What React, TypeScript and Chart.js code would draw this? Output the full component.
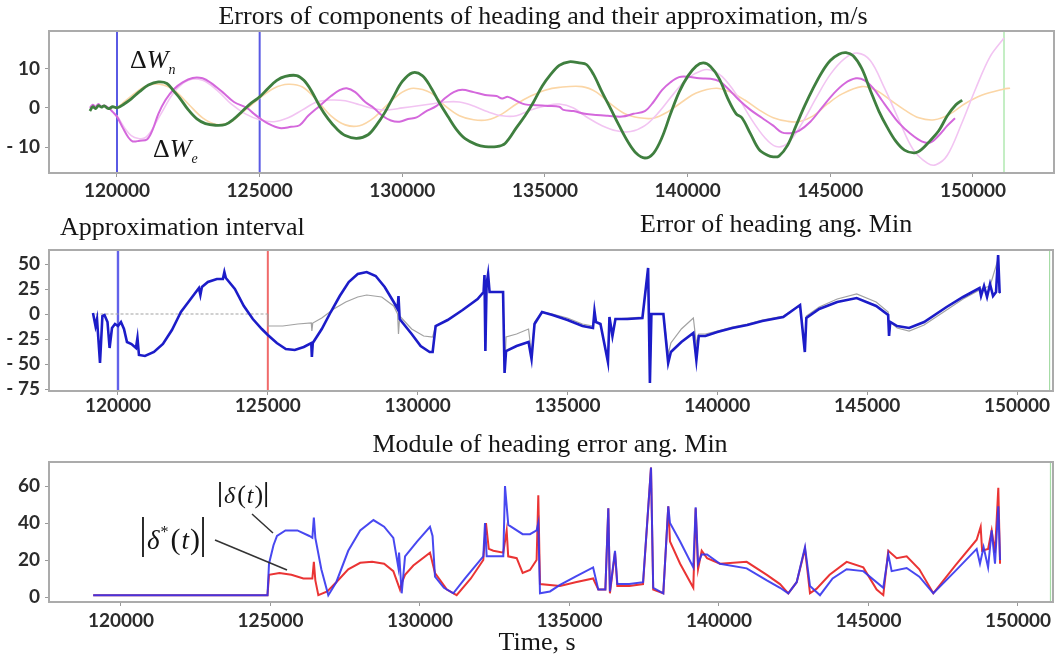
import React, { useEffect, useRef } from 'react';
import { Chart, registerables } from 'chart.js';
Chart.register(...registerables);

// ---------------- Data (time s, value) ----------------
const xTicks = [120000, 125000, 130000, 135000, 140000, 145000, 150000];
const topYTicks = [-10, 0, 10];
const midYTicks = [-75, -50, -25, 0, 25, 50];
const botYTicks = [0, 20, 40, 60];

const approxStart = 120000;
const approxEnd = 125000;
const forecastEnd = 151087;

// Panel 1: ΔWn (green)
const deltaWn: [number, number][] = [
  [119050,-0.8],[119150,0.3],[119250,-0.2],[119350,0.6],[119450,0.2],[119550,0.5],[119700,-0.2],[119850,0.3],
  [120000,0.0],[120250,1.0],[120500,2.3],[120800,4.2],[121100,5.8],[121450,6.6],[121750,6.2],[122000,4.2],
  [122200,2.5],[122500,-0.5],[122800,-2.8],[123100,-4.0],[123450,-4.4],[123800,-4.2],[124100,-2.8],[124400,-0.8],
  [124700,1.2],[125000,2.8],[125300,5.0],[125600,7.0],[125900,8.0],[126300,8.2],[126550,7.0],[126800,4.5],
  [127100,0.5],[127400,-2.8],[127700,-5.3],[128000,-7.0],[128400,-7.7],[128800,-6.8],[129100,-4.3],[129400,-1.0],
  [129700,3.0],[130000,6.7],[130350,8.9],[130700,8.2],[131000,5.2],[131300,1.3],[131600,-2.2],[131900,-5.5],
  [132200,-7.8],[132600,-9.3],[132900,-9.8],[133300,-9.8],[133600,-9.0],[134000,-5.0],[134300,-2.0],[134600,1.5],
  [134900,5.5],[135200,8.5],[135500,10.8],[135850,11.7],[136200,11.4],[136450,11.0],[136700,8.5],[137000,4.0],
  [137300,-0.2],[137600,-4.5],[137900,-8.5],[138200,-11.5],[138500,-12.7],[138800,-11.5],[139100,-7.5],[139400,-1.5],
  [139700,4.0],[140000,8.0],[140300,10.6],[140550,11.4],[140800,10.5],[141100,7.5],[141400,2.5],[141700,-1.5],
  [141900,-2.5],[142200,-6.5],[142500,-10.5],[142800,-12.0],[143000,-12.4],[143200,-12.2],[143500,-9.5],[143800,-4.5],
  [144100,0.5],[144400,5.0],[144700,9.0],[145000,12.0],[145300,13.6],[145550,14.0],[145800,13.2],[146100,10.0],
  [146400,4.5],[146700,-0.8],[147000,-5.0],[147300,-8.5],[147600,-10.7],[147950,-11.4],[148200,-10.5],[148500,-8.3],
  [148800,-5.8],[149100,-2.0],[149400,0.8],[149620,2.0]
];

// Panel 1: ΔWe (magenta)
const deltaWe: [number, number][] = [
  [119050,0.0],[119150,0.8],[119250,0.3],[119350,1.0],[119450,0.3],[119550,0.6],[119700,0.0],[119850,-1.0],
  [120000,-2.2],[120200,-5.0],[120400,-7.5],[120550,-8.5],[120800,-8.3],[121050,-8.0],[121250,-5.5],[121450,-1.5],
  [121700,2.0],[122000,4.8],[122300,6.5],[122650,7.6],[123000,7.5],[123300,6.3],[123700,4.0],[124100,1.5],
  [124550,0.0],[124800,-1.5],[125000,-2.6],[125300,-4.0],[125700,-5.1],[126100,-4.8],[126400,-4.4],[126700,-2.0],
  [127100,0.5],[127500,3.0],[127800,4.5],[128050,5.0],[128350,4.0],[128700,1.5],[129000,0.0],[129300,-2.0],
  [129600,-3.2],[129900,-3.5],[130200,-2.8],[130500,-2.4],[130800,-1.0],[131200,0.5],[131500,2.5],[131800,4.0],
  [132100,4.6],[132500,4.0],[132900,3.3],[133300,3.0],[133500,2.4],[133700,2.8],[134000,1.8],[134300,0.9],
  [134700,0.7],[135100,0.5],[135500,0.3],[135650,-0.5],[136000,-0.8],[136400,-1.5],[136800,-1.8],[137200,-2.0],
  [137700,-2.2],[138100,-1.5],[138500,-0.8],[138800,1.5],[139100,4.5],[139400,6.5],[139700,7.8],[140000,7.9],
  [140400,7.5],[140800,7.4],[141100,6.8],[141400,5.0],[141800,2.0],[142200,-0.5],[142600,-2.5],[143000,-4.5],
  [143300,-6.2],[143600,-6.4],[143900,-5.8],[144300,-3.5],[144700,0.0],[145100,3.5],[145500,6.2],[145900,7.5],
  [146200,7.0],[146500,5.0],[146800,2.0],[147100,-1.0],[147400,-3.8],[147800,-6.5],[148200,-8.5],[148500,-8.8],
  [148800,-7.0],[149100,-4.5],[149370,-2.6]
];

// Panel 1: approximation of ΔWn (light orange)
const approxWn: [number, number][] = [
  [120000,0.0],[120500,3.0],[121000,5.5],[121500,6.0],[122000,4.5],[122500,1.0],[123000,-2.5],[123500,-4.2],
  [124000,-3.5],[124500,-0.5],[125000,2.5],[125500,5.0],[126000,6.0],[126500,5.3],[127000,2.0],[127500,-2.0],
  [128000,-4.3],[128500,-4.5],[129000,-2.5],[129500,1.0],[130000,4.0],[130400,5.0],[131000,3.8],[131500,0.5],
  [132000,-2.0],[132500,-3.0],[133000,-3.0],[133500,-1.5],[134000,1.0],[134500,3.0],[135000,4.5],[135500,5.2],
  [136300,5.4],[136800,4.0],[137300,1.0],[137800,-1.5],[138300,-2.5],[138800,-2.6],[139300,-1.0],[139800,1.5],
  [140300,3.8],[141000,5.0],[141500,4.0],[142000,2.0],[142500,-0.5],[143000,-2.5],[143500,-3.4],[143900,-3.5],
  [144400,-2.0],[144900,1.0],[145400,3.5],[146100,5.4],[146600,4.5],[147100,2.0],[147600,-0.5],[148100,-2.5],
  [148650,-3.0],[149200,-1.5],[149700,1.0],[150300,3.2],[151087,4.8],[151300,5.0]
];

// Panel 1: approximation of ΔWe (light pink)
const approxWe: [number, number][] = [
  [120000,-2.0],[120500,-7.0],[121000,-7.5],[121500,-2.0],[122000,4.0],[122500,7.0],[123000,7.0],[123500,4.5],
  [124000,1.0],[124500,-1.5],[125000,-3.0],[125500,-3.5],[126000,-2.5],[126500,-0.5],[127000,1.5],[127500,2.0],
  [128000,1.8],[128500,0.8],[129000,-0.2],[129500,-0.5],[130000,0.0],[130500,0.5],[131000,1.0],[131500,1.5],
  [132000,1.5],[132500,0.5],[133000,-1.0],[133500,-2.0],[134000,-2.0],[134500,-0.5],[135000,0.5],[135500,1.0],
  [136000,0.0],[136500,-2.5],[137000,-4.5],[137500,-5.8],[138000,-6.0],[138500,-4.5],[139000,-1.0],[139500,3.5],
  [140000,7.5],[140500,9.5],[140800,9.6],[141200,8.0],[141700,3.5],[142200,-2.5],[142700,-7.5],[143100,-9.8],
  [143500,-9.0],[144000,-4.0],[144500,2.5],[145000,8.5],[145500,12.5],[145950,13.9],[146400,12.0],[146900,5.0],
  [147400,-3.0],[147900,-10.5],[148400,-14.0],[148700,-14.4],[149100,-12.0],[149600,-4.0],[150100,5.0],[150600,13.0],
  [151087,17.7]
];

// Panel 2: heading error (blue) and its approximation (gray)
const headingError: [number, number][] = [
  [119166,1],[119250,-12],[119300,-5],[119400,-49],[119480,-2],[119550,-1],[119650,-8],[119720,-34],[119800,-14],
  [119900,-10],[120000,-12],[120100,-8],[120200,-15],[120300,-28],[120450,-30],[120600,-34],[120650,-24],[120700,-41],
  [120900,-42],[121200,-38],[121500,-30],[121800,-16],[122000,-4],[122100,2],[122400,14],[122700,26],[122750,19],
  [122800,27],[123000,32],[123300,35],[123500,35],[123550,42],[123600,36],[123900,25],[124200,8],[124500,-5],
  [124800,-15],[125000,-21],[125300,-29],[125600,-35],[125900,-36],[126200,-33],[126450,-29],[126470,-43],[126500,-29],
  [126800,-15],[127100,2],[127400,18],[127700,32],[128000,40],[128300,42],[128600,38],[128900,27],[129200,12],
  [129330,5],[129360,18],[129400,-5],[129800,-20],[130100,-32],[130400,-38],[130500,-38],[130600,-12],[131000,-6],
  [131500,4],[132000,15],[132200,22],[132230,39],[132260,-37],[132300,30],[132350,40],[132400,22],[132700,22],
  [132850,22],[132900,-59],[132950,-37],[133300,-32],[133700,-28],[133800,-45],[133900,-10],[134150,2],[134500,-1],
  [135000,-6],[135500,-12],[135850,-14],[135900,3],[135950,-8],[136100,-10],[136350,-48],[136400,-3],[136500,-22],
  [136600,-5],[137000,-5],[137500,-4],[137690,46],[137750,-69],[137800,0],[138200,0],[138360,-49],[138450,-38],
  [138800,-28],[139200,-19],[139300,-46],[139380,-22],[139600,-22],[140000,-18],[140500,-14],[141000,-11],[141500,-7],
  [142200,-3],[142760,9],[142920,-38],[142970,-4],[143400,5],[144000,12],[144650,16],[145300,8],[145700,-1],
  [145730,-22],[145770,-8],[146000,-12],[146400,-14],[146900,-8],[147650,7],[148200,17],[148750,26],[148800,18],
  [148900,28],[149000,17],[149100,30],[149200,18],[149300,22],[149370,59],[149420,21]
];

const headingApprox: [number, number][] = [
  [119250,0],[125000,0],[125010,-12],[125500,-12],[126000,-10],[126450,-9],[126470,-17],[126500,-9],[126800,-4],
  [127200,5],[127600,12],[128000,17],[128300,19],[128800,17],[129200,8],[129330,0],[129360,-20],[129400,-2],
  [129800,-15],[130200,-22],[130500,-23],[130600,-12],[131000,-6],[131500,4],[132000,15],[132200,22],[132230,39],
  [132260,-37],[132300,30],[132350,40],[132400,22],[132850,22],[132900,-59],[132950,-23],[133300,-20],[133700,-15],
  [133800,-40],[133900,-8],[134150,2],[134500,0],[135000,-4],[135500,-10],[135850,-12],[135900,3],[135950,-8],
  [136100,-10],[136350,-48],[136400,-3],[136500,-22],[136600,-5],[137000,-4],[137500,-3],[137690,46],[137750,-69],
  [137800,0],[138200,0],[138360,-40],[138450,-29],[138800,-15],[139200,-4],[139300,-30],[139380,-20],[139600,-20],
  [140000,-17],[140500,-13],[141000,-10],[141500,-6],[142200,-2],[142760,9],[142920,-38],[142970,-2],[143400,7],
  [144000,15],[144650,20],[145300,12],[145700,2],[145730,-22],[145770,-8],[146000,-14],[146400,-17],[146900,-11],
  [147650,4],[148200,15],[148750,24],[148900,26],[149100,28],[149370,55],[149420,20]
];

// Panel 3: |δ(t)| (blue) and |δ*(t)| (red)
const moduleError: [number, number][] = [
  [119070,1],[124900,1],[124950,18],[125100,28],[125217,33],[125500,36],[125900,36],[126300,33],[126400,32],
  [126450,43],[126500,32],[126700,15],[126933,1],[127200,8],[127600,25],[128000,36],[128443,41.6],[128800,38],
  [129108,32],[129275,16],[129300,24],[129388,2],[129500,22],[129900,30],[130334,38],[130420,33],[130502,11],
  [130800,5],[131114,2],[131500,10],[132117,22],[132174,40],[132230,22],[132500,22],[132786,22],[132843,60],
  [132953,39],[133434,34],[133679,34],[133900,36],[133957,40],[134013,2],[134348,3],[134683,6.5],[135200,11],
  [135790,16],[135964,4],[136200,4],[136298,48],[136352,3],[136522,25],[136600,7],[137000,7],[137460,8],
  [137726,70],[137800,5],[138137,2],[138304,49],[138361,40],[138700,30],[139141,16],[139220,48.5],[139300,18],
  [139421,23],[139600,23],[140033,18],[140926,15.5],[141600,9],[142040,5],[142318,2],[142598,8],[142876,27],
  [143043,6],[143378,1],[143800,10],[144270,15],[144826,14],[145495,5],[145662,23],[145775,14],[146277,15.7],
  [146700,11],[147168,2],[147900,14],[148618,26],[148729,18],[148850,27],[149000,16],[149120,36],[149231,18],
  [149342,49],[149400,20]
];

const moduleResidual: [number, number][] = [
  [119070,1],[124900,1],[124950,12],[125300,13],[125700,12],[126100,10],[126400,10],[126450,19],[126500,9],
  [126600,1],[126900,3],[127200,8],[127600,15],[128000,18.5],[128400,19],[128800,18],[129108,14],[129331,4],
  [129400,8],[129500,12],[129777,17],[130334,24],[130502,13],[130900,4],[131226,1],[131700,10],[132117,20],
  [132207,40],[132300,26],[132452,25],[132786,24],[132899,36],[132950,22],[133234,21],[133434,13],[133679,14.6],
  [133900,20],[133957,55],[134013,7],[134683,6],[135200,8],[135790,10],[135964,4],[136200,4],[136298,48],
  [136352,2],[136522,24],[136600,6],[137000,6],[137460,7],[137726,70],[137800,4],[138137,2],[138304,49],
  [138361,30],[138700,18],[139141,5],[139220,48],[139300,15],[139421,25],[139600,21],[140033,18],[140926,19],
  [141600,12],[142040,7],[142318,2],[142598,8],[142876,26],[143043,2],[143266,4.5],[143700,12],[144270,19],
  [144826,16],[145273,4],[145495,1],[145662,25],[145943,21],[146277,22],[146700,15],[147168,2],[147900,17],
  [148618,31],[148752,38],[148800,25],[149000,26],[149120,36],[149231,24],[149342,59],[149400,18]
];

// ---------------- Helpers ----------------
const SERIF = '"Liberation Serif", "Times New Roman", serif';
const TICK_FONT = { family: 'Lato, "Open Sans", sans-serif', size: 19, weight: 'bold' as const };

const pts = (arr: [number, number][]) => arr.map(([x, y]) => ({ x, y }));
const vline = (x: number, y0: number, y1: number) => [{ x, y: y0 }, { x, y: y1 }];

const series = (data: any[], color: string, width: number, order: number, tension = 0) => ({
  data,
  borderColor: color,
  backgroundColor: color,
  borderWidth: width,
  pointRadius: 0,
  fill: false,
  order,
  tension,
});

const fmtTick = (v: number) => (v < 0 ? '- ' + Math.abs(v) : String(v));

const framePlugin = {
  id: 'frame',
  afterDatasetsDraw(chart: any) {
    const { ctx, chartArea: a } = chart;
    ctx.save();
    ctx.strokeStyle = '#ababab';
    ctx.lineWidth = 2;
    ctx.strokeRect(a.left, a.top, a.right - a.left, a.bottom - a.top);
    ctx.restore();
  },
};

type Seg = { text: string; font: string; dy?: number; gap?: number };
function drawSegs(ctx: CanvasRenderingContext2D, x: number, y: number, segs: Seg[]) {
  let cx = x;
  for (const s of segs) {
    ctx.font = s.font;
    ctx.fillText(s.text, cx, y + (s.dy || 0));
    cx += ctx.measureText(s.text).width + (s.gap || 0);
  }
  return cx;
}

function textPlugin(draw: (chart: any, ctx: CanvasRenderingContext2D) => void) {
  return {
    id: 'texts',
    afterDraw(chart: any) {
      const ctx = chart.ctx as CanvasRenderingContext2D;
      ctx.save();
      ctx.fillStyle = '#151515';
      ctx.strokeStyle = '#151515';
      ctx.textBaseline = 'alphabetic';
      draw(chart, ctx);
      ctx.restore();
    },
  };
}

function title(ctx: CanvasRenderingContext2D, text: string, x: number, y: number, align: CanvasTextAlign) {
  ctx.font = '26px ' + SERIF;
  ctx.textAlign = align;
  ctx.fillText(text, x, y);
  ctx.textAlign = 'left';
}

function makeOptions(p: {
  xMin: number; xMax: number; yMin: number; yMax: number; yTicks: number[];
  padTop: number; padRight: number; padBottom: number; xAxisH: number; xPad: number;
}) {
  return {
    responsive: false,
    animation: false as const,
    events: [],
    layout: { padding: { top: p.padTop, right: p.padRight, bottom: p.padBottom, left: 0 } },
    plugins: { legend: { display: false }, title: { display: false }, tooltip: { enabled: false } },
    scales: {
      x: {
        type: 'linear' as const,
        min: p.xMin,
        max: p.xMax,
        afterBuildTicks: (s: any) => { s.ticks = xTicks.map((v) => ({ value: v })); },
        afterFit: (s: any) => { s.height = p.xAxisH; },
        ticks: { callback: (v: any) => String(v), font: TICK_FONT, color: '#2c2c2c', padding: p.xPad, maxRotation: 0, autoSkip: false },
        grid: { drawOnChartArea: false, drawTicks: true, tickLength: 4, color: '#9a9a9a', lineWidth: 1 },
        border: { display: false },
      },
      y: {
        type: 'linear' as const,
        min: p.yMin,
        max: p.yMax,
        afterBuildTicks: (s: any) => { s.ticks = p.yTicks.map((v) => ({ value: v })); },
        afterFit: (s: any) => { s.width = 49; },
        ticks: { callback: (v: any) => fmtTick(v), font: TICK_FONT, color: '#2c2c2c', padding: 5, autoSkip: false },
        grid: { drawOnChartArea: false, drawTicks: true, tickLength: 4, color: '#9a9a9a', lineWidth: 1 },
        border: { display: false },
      },
    },
  };
}

// ---------------- Panels ----------------
function Panel1() {
  const ref = useRef<HTMLCanvasElement>(null);
  useEffect(() => {
    const yMin = -16.5, yMax = 19.5;
    const chart = new Chart(ref.current!, {
      type: 'line',
      data: {
        datasets: [
          series(pts(deltaWn), '#3f7f3f', 2.8, 0, 0.35),
          series(pts(deltaWe), '#d468dc', 2, 1, 0.35),
          series(pts(approxWe), '#f2c4f2', 1.6, 2, 0.35),
          series(pts(approxWn), '#fbd6a6', 1.6, 3, 0.35),
          series(vline(approxStart, yMin, yMax), '#5a5ae4', 2, 4),
          series(vline(approxEnd, yMin, yMax), '#5a5ae4', 2, 4),
          series(vline(forecastEnd, yMin, yMax), '#9ee39e', 1.2, 4),
        ],
      },
      options: makeOptions({ xMin: 117617, xMax: 152839, yMin, yMax, yTicks: topYTicks, padTop: 31, padRight: 6, padBottom: 2, xAxisH: 30, xPad: 2 }) as any,
      plugins: [
        framePlugin,
        textPlugin((c, ctx) => {
          title(ctx, 'Errors of components of heading and their approximation, m/s', 543, 24, 'center');
          const X = (v: number) => c.scales.x.getPixelForValue(v);
          const Y = (v: number) => c.scales.y.getPixelForValue(v);
          drawSegs(ctx, X(120456), Y(10.1), [
            { text: 'Δ', font: '26px ' + SERIF },
            { text: 'W', font: 'italic 26px ' + SERIF },
            { text: 'n', font: 'italic 14px ' + SERIF, dy: 6 },
          ]);
          drawSegs(ctx, X(121262), Y(-12.4), [
            { text: 'Δ', font: '26px ' + SERIF },
            { text: 'W', font: 'italic 26px ' + SERIF },
            { text: 'e', font: 'italic 14px ' + SERIF, dy: 6 },
          ]);
        }),
      ],
    });
    return () => chart.destroy();
  }, []);
  return <canvas ref={ref} width={1060} height={205} style={{ position: 'absolute', left: 0, top: 0, width: 1060, height: 205 }} />;
}

function Panel2() {
  const ref = useRef<HTMLCanvasElement>(null);
  useEffect(() => {
    const yMin = -77, yMax = 64;
    const gray = series(pts(headingApprox), '#a2a2a2', 1.2, 1) as any;
    gray.segment = { borderDash: (s: any) => (s.p0.parsed.x < approxEnd ? [3, 2] : undefined) };
    const chart = new Chart(ref.current!, {
      type: 'line',
      data: {
        datasets: [
          series(pts(headingError), '#1c1cc8', 2.6, 0),
          gray,
          series(vline(approxStart, yMin, yMax), '#6262ea', 2.4, 2),
          series(vline(approxEnd, yMin, yMax), '#f06a6a', 2, 2),
          series(vline(forecastEnd, yMin, yMax), '#a6dca6', 1.2, 2),
        ],
      },
      options: makeOptions({ xMin: 117698, xMax: 151201, yMin, yMax, yTicks: midYTicks, padTop: 45, padRight: 7, padBottom: 0, xAxisH: 29, xPad: -1 }) as any,
      plugins: [
        framePlugin,
        textPlugin((c, ctx) => {
          title(ctx, 'Approximation interval', 60, 30, 'left');
          title(ctx, 'Error of heading ang. Min', 640, 27, 'left');
        }),
      ],
    });
    return () => chart.destroy();
  }, []);
  return <canvas ref={ref} width={1060} height={215} style={{ position: 'absolute', left: 0, top: 205, width: 1060, height: 215 }} />;
}

function Panel3() {
  const ref = useRef<HTMLCanvasElement>(null);
  useEffect(() => {
    const yMin = -2.7, yMax = 73;
    const chart = new Chart(ref.current!, {
      type: 'line',
      data: {
        datasets: [
          series(pts(moduleError), 'rgba(52,52,238,0.9)', 2, 0),
          series(pts(moduleResidual), '#ea3434', 2, 1),
          series(vline(forecastEnd, yMin, yMax), '#a6dca6', 1.2, 2),
        ],
      },
      options: makeOptions({ xMin: 117592, xMax: 151171, yMin, yMax, yTicks: botYTicks, padTop: 42, padRight: 7, padBottom: 24, xAxisH: 30, xPad: 3 }) as any,
      plugins: [
        framePlugin,
        textPlugin((c, ctx) => {
          title(ctx, 'Module of heading error ang. Min', 550, 32, 'center');
          title(ctx, 'Time, s', 537, 230, 'center');
          const X = (v: number) => c.scales.x.getPixelForValue(v);
          const Y = (v: number) => c.scales.y.getPixelForValue(v);
          ctx.lineWidth = 1.8;
          // |δ(t)|
          let x0 = X(123278), y0 = Y(50.8);
          ctx.beginPath(); ctx.moveTo(x0 + 1, y0 - 21); ctx.lineTo(x0 + 1, y0 + 4); ctx.stroke();
          let xe = drawSegs(ctx, x0 + 5, y0, [
            { text: 'δ', font: 'italic 24px ' + SERIF, gap: 2 },
            { text: '(', font: '26px ' + SERIF, gap: 1 },
            { text: 't', font: 'italic 24px ' + SERIF, gap: 1 },
            { text: ')', font: '26px ' + SERIF },
          ]);
          ctx.beginPath(); ctx.moveTo(xe + 3, y0 - 21); ctx.lineTo(xe + 3, y0 + 4); ctx.stroke();
          // |δ*(t)|
          x0 = X(120702); y0 = Y(25.9);
          ctx.beginPath(); ctx.moveTo(x0 + 1, y0 - 32); ctx.lineTo(x0 + 1, y0 + 8); ctx.stroke();
          xe = drawSegs(ctx, x0 + 5, y0, [
            { text: 'δ', font: 'italic 27px ' + SERIF, gap: 1 },
            { text: '*', font: '16px ' + SERIF, dy: -12, gap: 2 },
            { text: '(', font: '30px ' + SERIF, gap: 1 },
            { text: 't', font: 'italic 27px ' + SERIF, gap: 1 },
            { text: ')', font: '30px ' + SERIF },
          ]);
          ctx.beginPath(); ctx.moveTo(xe + 3, y0 - 32); ctx.lineTo(xe + 3, y0 + 8); ctx.stroke();
          // leader lines
          ctx.strokeStyle = '#333';
          ctx.lineWidth = 1.5;
          ctx.beginPath(); ctx.moveTo(X(124381), Y(44.9)); ctx.lineTo(X(125084), Y(34.6)); ctx.stroke();
          ctx.beginPath(); ctx.moveTo(X(123144), Y(30.8)); ctx.lineTo(X(125552), Y(14.6)); ctx.stroke();
        }),
      ],
    });
    return () => chart.destroy();
  }, []);
  return <canvas ref={ref} width={1060} height={236} style={{ position: 'absolute', left: 0, top: 420, width: 1060, height: 236 }} />;
}

export default function App() {
  return (
    <div style={{ position: 'absolute', left: 0, top: 0, width: 1060, height: 656, background: '#fff', overflow: 'hidden' }}>
      <Panel1 />
      <Panel2 />
      <Panel3 />
    </div>
  );
}
